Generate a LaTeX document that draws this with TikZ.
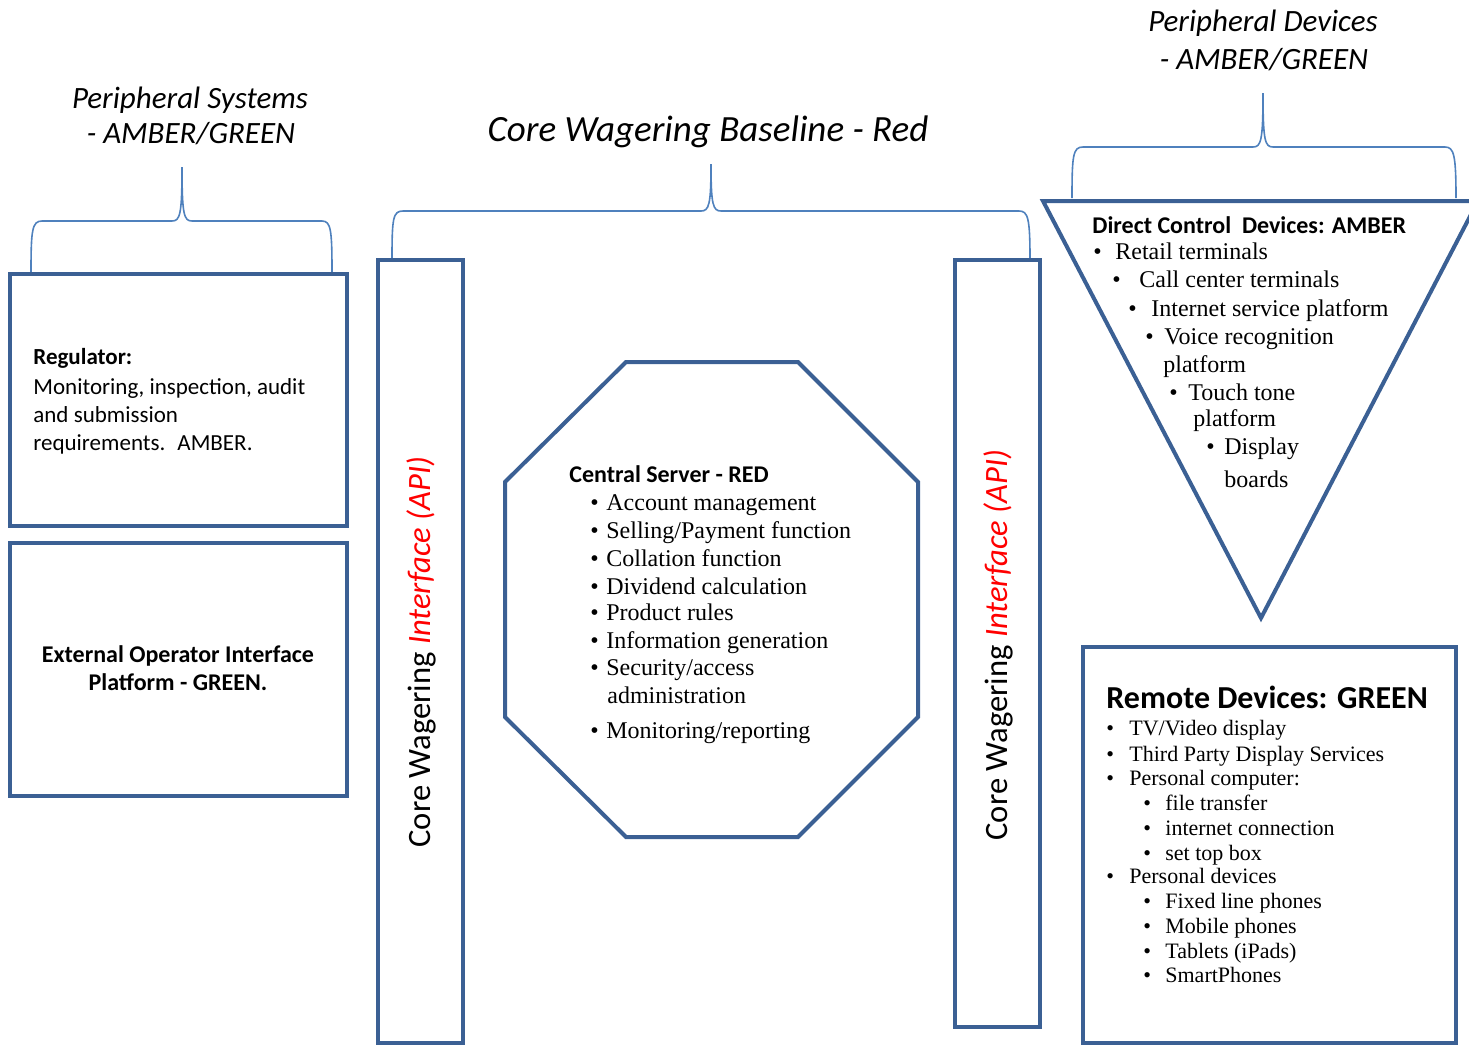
\documentclass[tikz,border=0pt]{standalone}
\usepackage{fontspec}
\setmainfont{Liberation Serif}
\newfontfamily\calib{Carlito}
\definecolor{boxblue}{RGB}{59,96,148}
\definecolor{braceblue}{RGB}{79,129,189}
\newcommand{\bitem}[2][8pt]{\makebox[#1][l]{\textbullet}#2}

\begin{document}
\begin{tikzpicture}%
        [x=0.5pt,
        y=-0.5pt,
        frame/.style={draw=boxblue, line width=2pt},
        brace/.style={draw=braceblue, line width=0.8pt},
        lbl/.style={inner sep=0pt, anchor=base west},
        serif/.style={lbl, font=\fontsize{12}{14}\selectfont},
        small/.style={lbl, font=\fontsize{11}{13}\selectfont},
        sans/.style={lbl, font=\calib\fontsize{11.5}{14}\selectfont},
        bold/.style={lbl, font=\calib\bfseries\fontsize{12}{14}\selectfont},
        heading/.style={inner sep=0pt, anchor=base, font=\calib\itshape\fontsize{15.5}{18}\selectfont},
        api/.style={inner sep=0pt, rotate=90, font=\calib\fontsize{16.3}{19}\selectfont}]
    \useasboundingbox (0,0) rectangle (1469,1045);
    %
    %% Drawing the headings and braces
    \node[heading] (psys1) at (190,108) {Peripheral Systems};
    \node[heading] (psys2) at (191,143) {- AMBER/GREEN};
    \node[heading, font=\calib\itshape\fontsize{18.5}{22}\selectfont] (base) at (708,141) {Core Wagering Baseline - Red};
    \node[heading] (pdev1) at (1263,31) {Peripheral Devices};
    \node[heading] (pdev2) at (1264,69) {- AMBER/GREEN};
    \draw[brace] (31,273) .. controls (31,230) and (32,221) .. (42,221) -- (172,221)
        .. controls (180,221) and (182,215) .. (182,167)
        .. controls (182,215) and (184,221) .. (192,221) -- (322,221)
        .. controls (331,221) and (332,230) .. (332,273);
    \draw[brace] (392,259) .. controls (392,218) and (393,211) .. (403,211) -- (701,211)
        .. controls (709,211) and (711,205) .. (711,164)
        .. controls (711,205) and (713,211) .. (721,211) -- (1019,211)
        .. controls (1028,211) and (1030,218) .. (1030,259);
    \draw[brace] (1072,198) .. controls (1072,155) and (1073,147) .. (1083,147) -- (1253,147)
        .. controls (1261,147) and (1263,141) .. (1263,93)
        .. controls (1263,141) and (1265,147) .. (1273,147) -- (1445,147)
        .. controls (1454,147) and (1456,155) .. (1456,198);
    %
    %% Drawing the peripheral systems
    \draw[frame] (10,274) rectangle (347,526);
    \node[bold, font=\calib\bfseries\fontsize{11.5}{14}\selectfont] (reg) at (33,364) {Regulator:};
    \node[sans] (reg1) at (33,394) {Monitoring, inspection, audit};
    \node[sans] (reg2) at (33,422) {and submission};
    \node[sans] (reg3) at (33,450) {requirements.~ AMBER.};
    \draw[frame] (10,543) rectangle (347,796);
    \node[bold, anchor=base] (ext1) at (178,662) {External Operator Interface};
    \node[bold, anchor=base] (ext2) at (178,690) {Platform - GREEN.};
    %
    %% Drawing the interface bars
    \draw[frame] (378,260) rectangle (463,1043);
    \draw[frame] (955,260) rectangle (1040,1027);
    \node[api] (apiL) at (421,652) {Core Wagering {\color{red}\itshape Interface (API)}};
    \node[api] (apiR) at (998,645) {Core Wagering {\color{red}\itshape Interface (API)}};
    %
    %% Drawing the central server
    \draw[frame] (626,362) -- (798,362) -- (918,482) -- (918,717) -- (798,837)
        -- (626,837) -- (505,717) -- (505,482) -- cycle;
    \node[bold] (cs) at (569,482) {Central Server - RED};
    \node[serif] (cs1) at (590,510) {\bitem{Account management}};
    \node[serif] (cs2) at (590,538) {\bitem{Selling/Payment function}};
    \node[serif] (cs3) at (590,566) {\bitem{Collation function}};
    \node[serif] (cs4) at (590,594) {\bitem{Dividend calculation}};
    \node[serif] (cs5) at (590,620) {\bitem{Product rules}};
    \node[serif] (cs6) at (590,648) {\bitem{Information generation}};
    \node[serif] (cs7) at (590,675) {\bitem{Security/access}};
    \node[serif] (cs7b) at (607,703) {administration};
    \node[serif] (cs8) at (590,738) {\bitem{Monitoring/reporting}};
    %
    %% Drawing the direct control devices
    \draw[frame] (1043,201) -- (1478,201) -- (1261,618) -- cycle;
    \node[bold] (dcd) at (1092,233) {Direct Control~ Devices: AMBER};
    \node[serif] (dcd1) at (1093,259) {\bitem[11pt]{Retail terminals}};
    \node[serif] (dcd2) at (1112,287) {\bitem[13.5pt]{Call center terminals}};
    \node[serif] (dcd3) at (1128,316) {\bitem[11.5pt]{Internet service platform}};
    \node[serif] (dcd4) at (1145,344) {\bitem[9.5pt]{Voice recognition}};
    \node[serif] (dcd4b) at (1163,372) {platform};
    \node[serif] (dcd5) at (1169,400) {\bitem[9.5pt]{Touch tone}};
    \node[serif] (dcd5b) at (1193,426) {platform};
    \node[serif] (dcd6) at (1206,454) {\bitem[9pt]{Display}};
    \node[serif] (dcd6b) at (1224,487) {boards};
    %
    %% Drawing the remote devices
    \draw[frame] (1083,647) rectangle (1456,1043);
    \node[bold, font=\calib\bfseries\fontsize{16}{19}\selectfont] (rem) at (1106,708) {Remote Devices: GREEN};
    \node[small] (rem1) at (1106,735) {\bitem[11.5pt]{TV/Video display}};
    \node[small] (rem2) at (1106,761) {\bitem[11.5pt]{Third Party Display Services}};
    \node[small] (rem3) at (1106,785) {\bitem[11.5pt]{Personal computer:}};
    \node[small] (rem3a) at (1143,810) {\bitem[11pt]{file transfer}};
    \node[small] (rem3b) at (1143,835) {\bitem[11pt]{internet connection}};
    \node[small] (rem3c) at (1143,860) {\bitem[11pt]{set top box}};
    \node[small] (rem4) at (1106,883) {\bitem[11.5pt]{Personal devices}};
    \node[small] (rem4a) at (1143,908) {\bitem[11pt]{Fixed line phones}};
    \node[small] (rem4b) at (1143,933) {\bitem[11pt]{Mobile phones}};
    \node[small] (rem4c) at (1143,958) {\bitem[11pt]{Tablets (iPads)}};
    \node[small] (rem4d) at (1143,982) {\bitem[11pt]{SmartPhones}};
    %%
    \end{tikzpicture}
\end{document}
